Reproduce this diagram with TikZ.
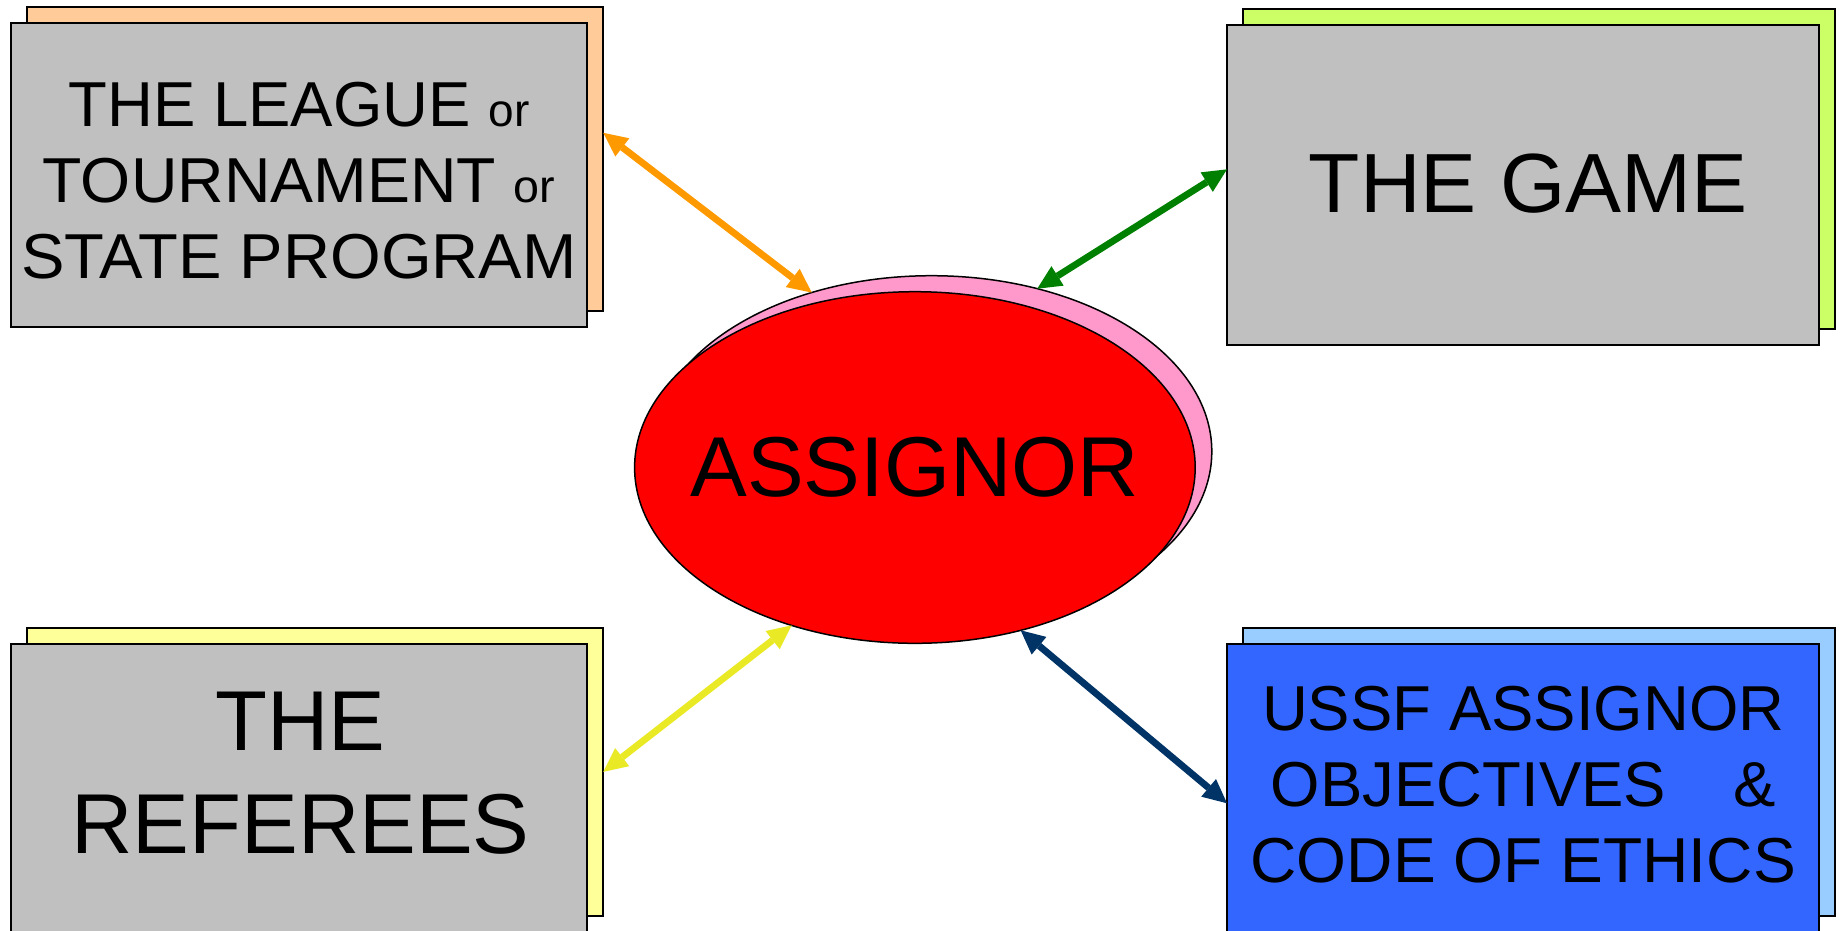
\documentclass[tikz,border=0pt]{standalone}
\usepackage{fontspec}
\setmainfont{Liberation Sans}
\usetikzlibrary{shapes.geometric,arrows.meta,calc}

\definecolor{panelgray}{HTML}{C0C0C0}
\definecolor{peach}{HTML}{FFCC99}
\definecolor{lime}{HTML}{CCFF66}
\definecolor{paleyellow}{HTML}{FFFF99}
\definecolor{paleblue}{HTML}{99CCFF}
\definecolor{royal}{HTML}{3366FF}
\definecolor{pinkback}{HTML}{FF99CC}
\definecolor{redfront}{HTML}{FF0000}
\definecolor{arrorange}{HTML}{FF9900}
\definecolor{arrgreen}{HTML}{008000}
\definecolor{arryellow}{HTML}{E9E926}
\definecolor{arrnavy}{HTML}{003366}

\begin{document}
\begin{tikzpicture}[x=1pt,y=-1pt,
  panel/.style={rectangle, draw=black, line width=2pt, inner sep=0pt, outer sep=0pt},
  widepanel/.style={panel, minimum width=576.5pt},
  broadpanel/.style={panel, minimum width=592.4pt},
  oval/.style={ellipse, draw=black, line width=1.5pt, inner sep=0pt, outer sep=0pt,
    minimum width=560.6pt, minimum height=351.6pt},
  caption/.style={inner sep=0pt, outer sep=0pt, align=center, text=black},
  mid/.style={font=\fontsize{63.5}{76}\selectfont},
  big/.style={font=\fontsize{85}{102.4}\selectfont},
  link/.style={line width=6.8pt,
    {Triangle[length=24pt,width=23pt,line width=0pt]}-{Triangle[length=24pt,width=23pt,line width=0pt]}},
]
\useasboundingbox (0,0) rectangle (1841,930);

% back panels
\node[widepanel, minimum height=304.6pt, fill=peach] (leagueBack) at (315,159) {};
\node[broadpanel, minimum height=320pt, fill=lime] (gameBack) at (1539,169) {};
\node[widepanel, minimum height=288.3pt, fill=paleyellow] (refBack) at (315,771.85) {};
\node[broadpanel, minimum height=288pt, fill=paleblue] (ussfBack) at (1539,772) {};

% front panels
\node[widepanel, minimum height=304.6pt, fill=panelgray] (leagueFront) at (299,175) {};
\node[broadpanel, minimum height=320pt, fill=panelgray] (gameFront) at (1523.2,185) {};
\node[widepanel, minimum height=288.3pt, fill=panelgray] (refFront) at (299,787.85) {};
\node[broadpanel, minimum height=288pt, fill=royal] (ussfFront) at (1523.2,788) {};

% central ellipse with its offset shadow
\node[oval, fill=pinkback] (assignorBack) at (931.5,451.5) {};
\node[oval, fill=redfront] (assignor) at (914.9,467.5) {};

% panel captions
\node[caption, mid] (leagueText) at ([yshift=-5.5pt]leagueFront.center)
  {THE LEAGUE {\fontsize{46}{76}\selectfont or}\\
   \scalebox{1.014}[1]{TOURNAMENT {\fontsize{46}{76}\selectfont or}}\\
   \scalebox{1.026}[1]{STATE PROGRAM}};
\node[caption, font=\fontsize{84}{100}\selectfont] (gameText)
  at ([xshift=5pt,yshift=1.2pt]gameFront.center) {THE GAME};
\node[caption, big] (refText) at ([xshift=1.5pt,yshift=14.6pt]refFront.center)
  {THE\\REFEREES};
\node[caption, mid] (ussfText) at ([yshift=3pt]ussfFront.center)
  {USSF ASSIGNOR\\
   OBJECTIVES\hspace{67pt}\&\\
   \scalebox{1.01}[1]{CODE OF ETHICS}};
\node[caption, font=\fontsize{85}{100}\selectfont] (assignorText) at (assignor.center) {ASSIGNOR};

% two-way connectors
\draw[link, arrorange]
  ($(leagueBack.north east)!0.414!(leagueBack.south east)$) -- (assignorBack.127.1);
\draw[link, arrgreen]
  ($(gameFront.north west)!0.451!(gameFront.south west)$) -- (assignorBack.57.1);
\draw[link, arryellow]
  (refBack.east) -- (assignor.232.9);
\draw[link, arrnavy]
  ($(ussfFront.north west)!0.553!(ussfFront.south west)$) -- (assignor.303.2);
\end{tikzpicture}
\end{document}
